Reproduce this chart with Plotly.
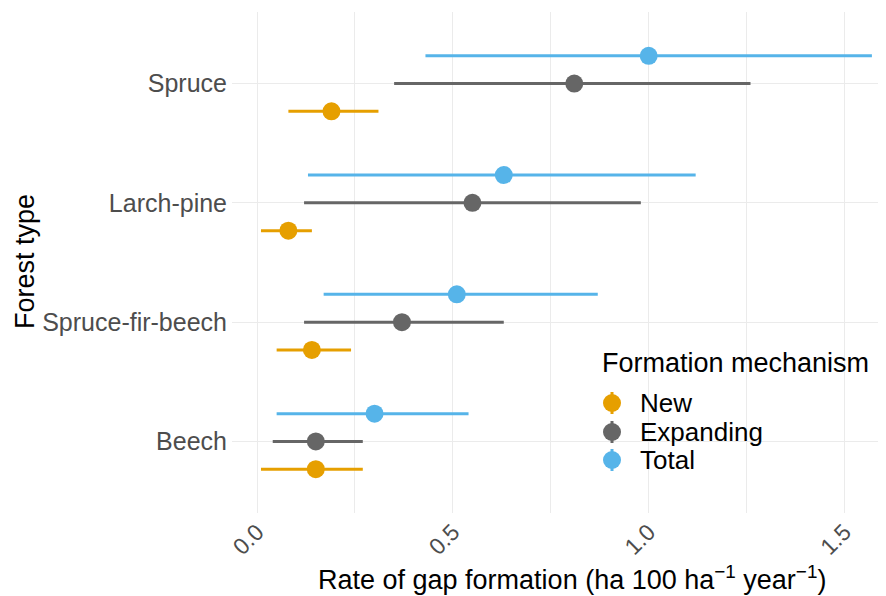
import numpy as np
import plotly.graph_objects as go

categories = ["Beech", "Spruce-fir-beech", "Larch-pine", "Spruce"]
mechanisms = ["New", "Expanding", "Total"]

new_mean = [0.15, 0.14, 0.08, 0.19]
new_lo = [0.01, 0.05, 0.01, 0.08]
new_hi = [0.27, 0.24, 0.14, 0.31]

exp_mean = [0.15, 0.37, 0.55, 0.81]
exp_lo = [0.04, 0.12, 0.12, 0.35]
exp_hi = [0.27, 0.63, 0.98, 1.26]

tot_mean = [0.30, 0.51, 0.63, 1.00]
tot_lo = [0.05, 0.17, 0.13, 0.43]
tot_hi = [0.54, 0.87, 1.12, 1.57]

x_ticks = [0.0, 0.5, 1.0, 1.5]
x_ticklabels = ["0.0", "0.5", "1.0", "1.5"]

colors = {"New": "#E69F00", "Expanding": "#666666", "Total": "#56B4E9"}
series = {
    "New": (new_mean, new_lo, new_hi),
    "Expanding": (exp_mean, exp_lo, exp_hi),
    "Total": (tot_mean, tot_lo, tot_hi),
}
dodge = {"New": -0.233, "Expanding": 0.0, "Total": 0.233}

FONT = "Liberation Sans, Arial, sans-serif"
# page body has an 8px margin, so the figure is 8px smaller than the window
OFF = 8
W, H = 886 - OFF, 596 - OFF
PL, PR, PT, PB = 232, 886, 12, 513   # panel edges in window pixels
ML, MR, MT, MB = PL - OFF, 886 - PR, PT - OFF, 596 - PB

fig = go.Figure()
base = np.arange(1, len(categories) + 1)
for m in mechanisms:
    mean, lo, hi = (np.array(v, dtype=float) for v in series[m])
    fig.add_trace(go.Scatter(
        x=mean,
        y=base + dodge[m],
        mode="markers",
        name=m,
        showlegend=False,
        marker=dict(size=18, color=colors[m], line=dict(width=0)),
        error_x=dict(type="data", symmetric=False, array=hi - mean,
                     arrayminus=mean - lo, color=colors[m], thickness=3, width=0),
    ))

fig.update_layout(
    width=W, height=H,
    margin=dict(l=ML, r=MR, t=MT, b=MB, pad=0, autoexpand=False),
    paper_bgcolor="white", plot_bgcolor="white",
    font=dict(family=FONT, color="black"),
    showlegend=False,
)
fig.update_xaxes(
    range=[-0.064, 1.606], automargin=False,
    tickvals=x_ticks, ticktext=x_ticklabels,
    tickangle=-45,
    tickfont=dict(size=23, color="#4D4D4D", family=FONT),
    showgrid=True, gridcolor="#EBEBEB", gridwidth=1.1,
    minor=dict(dtick=0.25, showgrid=True, gridcolor="#EBEBEB", gridwidth=0.6),
    zeroline=False, showline=False, ticks="",
)
fig.update_yaxes(
    range=[0.4, 4.6], automargin=False,
    tickvals=list(base), ticktext=categories,
    tickfont=dict(size=25, color="#4D4D4D", family=FONT),
    ticklabelstandoff=4,
    showgrid=True, gridcolor="#EBEBEB", gridwidth=1.1,
    zeroline=False, showline=False, ticks="",
)

def px_x(p):
    return (p - PL) / (PR - PL)

def px_y(p):
    return (PB - p) / (PB - PT)

# axis titles
fig.add_annotation(x=px_x(572), y=px_y(578), xref="paper", yref="paper",
                   text="Rate of gap formation (ha 100 ha<sup>\u22121</sup> year<sup>\u22121</sup>)",
                   showarrow=False, xanchor="center", yanchor="middle",
                   font=dict(size=27, color="black", family=FONT))
fig.add_annotation(x=px_x(25), y=px_y(262), xref="paper", yref="paper",
                   text="Forest type", textangle=-90,
                   showarrow=False, xanchor="center", yanchor="middle",
                   font=dict(size=27, color="black", family=FONT))

# legend
fig.add_annotation(x=px_x(600), y=px_y(363), xref="paper", yref="paper",
                   text="Formation mechanism", showarrow=False, xanchor="left", yanchor="middle",
                   font=dict(size=27, color="black", family=FONT))
legend_y = {"New": 403, "Expanding": 432, "Total": 460}
for m in mechanisms:
    yy = px_y(legend_y[m])
    fig.add_shape(type="line", xref="paper", yref="paper", xsizemode="pixel", ysizemode="pixel",
                  xanchor=px_x(612), yanchor=yy, x0=0, x1=0, y0=-11, y1=11,
                  line=dict(color=colors[m], width=3))
    fig.add_shape(type="circle", xref="paper", yref="paper", xsizemode="pixel", ysizemode="pixel",
                  xanchor=px_x(612), yanchor=yy, x0=-9, x1=9, y0=-9, y1=9,
                  fillcolor=colors[m], line=dict(width=0))
    fig.add_annotation(x=px_x(638), y=yy, xref="paper", yref="paper", text=m, showarrow=False,
                       xanchor="left", yanchor="middle",
                       font=dict(size=26, color="black", family=FONT))

fig.write_html("out.html")
